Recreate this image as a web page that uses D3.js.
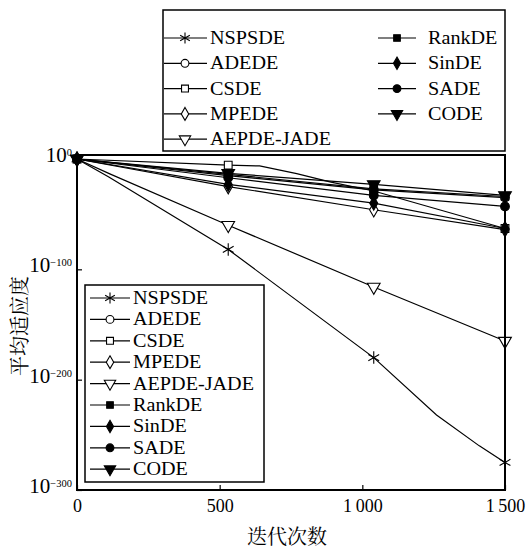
<!DOCTYPE html>
<html>
<head>
<meta charset="utf-8">
<script src="https://cdn.jsdelivr.net/npm/d3@7"></script>
<style>
  body { margin: 0; background: #fff; }
</style>
</head>
<body>
<svg id="chart" width="531" height="551"></svg>
<script>
// ticks
const iterTicks = [0, 500, 1000, 1500]
const fitTicks = [1, 1e-100, 1e-200, 1e-300]
const fitTickExp = ['0', '\u2212100', '\u2212200', '\u2212300']
const markIters = [0, 530, 1040, 1500]

// series : [iteration, mean fitness]
const names = ['NSPSDE', 'ADEDE', 'CSDE', 'MPEDE', 'AEPDE-JADE', 'RankDE', 'SinDE', 'SADE', 'CODE']
const NSPSDE = [[0, 1], [110, 1e-16], [530, 1e-82], [1040, 1e-180], [1260, 1e-232], [1410, 1e-260], [1500, 1e-275]]
const ADEDE = [[0, 1], [530, 1e-15], [1040, 1e-28], [1500, 1e-35]]
const CSDE = [[0, 1], [530, 3e-6], [640, 5e-7], [770, 5e-14], [890, 1e-21], [1040, 1e-29], [1500, 1e-63]]
const MPEDE = [[0, 1], [530, 1e-25], [1040, 1e-46], [1500, 1e-64]]
const AEPDE = [[0, 1], [115, 3e-14], [530, 1e-60], [1040, 1e-116], [1500, 1e-165]]
const RankDE = [[0, 1], [530, 1e-14], [1040, 1e-27], [1500, 1e-34]]
const SinDE = [[0, 1], [530, 1e-23], [1040, 1e-40], [1500, 1e-63]]
const SADE = [[0, 1], [530, 1e-17], [1040, 1e-33], [1500, 1e-43]]
const CODE = [[0, 1], [530, 1e-13], [1040, 1e-23], [1500, 1e-33]]
const seriesData = [NSPSDE, ADEDE, CSDE, MPEDE, AEPDE, RankDE, SinDE, SADE, CODE]

// marker styles, same order as names
const markers = [
  { type: d3.symbolAsterisk, size: 110, fill: false, rot: 0 },
  { type: d3.symbolCircle, size: 60, fill: false, rot: 0 },
  { type: d3.symbolSquare, size: 60, fill: false, rot: 0 },
  { type: d3.symbolDiamond, size: 60, fill: false, rot: 0 },
  { type: d3.symbolTriangle, size: 70, fill: false, rot: 180 },
  { type: d3.symbolSquare, size: 55, fill: true, rot: 0 },
  { type: d3.symbolDiamond, size: 55, fill: true, rot: 0 },
  { type: d3.symbolCircle, size: 60, fill: true, rot: 0 },
  { type: d3.symbolTriangle, size: 70, fill: true, rot: 180 }
]

const SERIF = '"Liberation Serif", "Times New Roman", serif'
const CJK = '"Noto Serif CJK SC", "Noto Sans CJK SC", sans-serif'

const svg = d3.select('#chart')
const mLeft = 77, mRight = 505, mTop = 155, mBottom = 490

const x = d3.scaleLinear().domain([0, 1500]).range([mLeft, mRight])
const y = d3.scaleLog().domain([1e-300, 1]).range([mBottom, 159])

function drawMarker (g, m, cx, cy, k) {
  g.append('path')
    .attr('d', d3.symbol().type(m.type).size(m.size * (k || 1))())
    .attr('transform', 'translate(' + cx + ',' + cy + ') rotate(' + m.rot + ')')
    .attr('fill', m.fill ? '#000' : '#fff')
    .attr('stroke', '#000')
    .attr('stroke-width', 1.1)
}

// lines
const line = d3.line().x(d => x(d[0])).y(d => y(d[1]))
const plot = svg.append('g').attr('class', 'plot-g')
seriesData.forEach(function (s) {
  plot.append('path').datum(s)
    .attr('d', line)
    .attr('fill', 'none')
    .attr('stroke', '#000')
    .attr('stroke-width', 1.2)
})
seriesData.forEach(function (s, i) {
  s.filter(d => markIters.includes(d[0])).forEach(function (d) {
    drawMarker(plot, markers[i], x(d[0]), y(d[1]))
  })
})

// axes (ticks inward)
const fmt = d3.formatLocale({ decimal: '.', thousands: '\u2009', grouping: [3], currency: ['', ''] }).format(',')
const xAxis = svg.append('g')
  .attr('transform', 'translate(0,' + mBottom + ')')
  .call(d3.axisBottom(x).tickValues(iterTicks).tickSize(-5).tickSizeOuter(0).tickFormat(fmt))
xAxis.attr('font-family', SERIF).attr('font-size', 18)
xAxis.select('.domain').remove()
xAxis.selectAll('line').attr('stroke', '#000').attr('stroke-width', 1.2)
xAxis.selectAll('text').attr('dy', null).attr('y', 22).attr('fill', '#000')

const yAxis = svg.append('g')
  .attr('transform', 'translate(' + mLeft + ',0)')
  .call(d3.axisLeft(y).tickValues(fitTicks).tickSize(-5).tickSizeOuter(0).tickFormat(''))
yAxis.select('.domain').remove()
yAxis.selectAll('line').attr('stroke', '#000').attr('stroke-width', 1.2)

// y tick labels 10^n
fitTicks.forEach(function (v, i) {
  const t = svg.append('text')
    .attr('x', 72)
    .attr('y', y(v) + 3)
    .attr('text-anchor', 'end')
    .attr('font-family', SERIF)
    .attr('fill', '#000')
  t.append('tspan').text('10').attr('font-size', 21)
  t.append('tspan').text(fitTickExp[i]).attr('font-size', 10.5).attr('dy', -6)
})

// frame
svg.append('rect')
  .attr('x', mLeft).attr('y', mTop)
  .attr('width', mRight - mLeft).attr('height', mBottom - mTop)
  .attr('fill', 'none').attr('stroke', '#000').attr('stroke-width', 2)

// axis titles
svg.append('text')
  .attr('transform', 'translate(18,326) rotate(-90)')
  .attr('text-anchor', 'middle')
  .attr('dominant-baseline', 'central')
  .attr('font-family', CJK)
  .attr('font-size', 20)
  .attr('fill', '#000')
  .text('平均适应度')
svg.append('text')
  .attr('x', 287).attr('y', 544)
  .attr('text-anchor', 'middle')
  .attr('font-family', CJK)
  .attr('font-size', 20)
  .attr('fill', '#000')
  .text('迭代次数')

// legend helper
function legendItem (g, i, lx0, lx1, mx, tx, cy) {
  g.append('line').attr('x1', lx0).attr('x2', lx1).attr('y1', cy).attr('y2', cy)
    .attr('stroke', '#000').attr('stroke-width', 1.2)
  drawMarker(g, markers[i], mx, cy, 0.8)
  g.append('text')
    .attr('transform', 'translate(' + tx + ',' + (cy + 6) + ') scale(1.12,1)')
    .attr('font-family', SERIF)
    .attr('font-size', 18)
    .attr('fill', '#000')
    .text(names[i])
}

// top legend, two columns
const topLeg = svg.append('g').attr('class', 'legend-top')
topLeg.append('rect').attr('x', 163).attr('y', 10).attr('width', 342).attr('height', 141)
  .attr('fill', '#fff').attr('stroke', '#000').attr('stroke-width', 1.5)
names.forEach(function (n, i) {
  if (i < 5) legendItem(topLeg, i, 164, 207, 185, 210, 38 + i * 25.3)
  else legendItem(topLeg, i, 378, 416, 397, 428, 38 + (i - 5) * 25.3)
})

// lower legend, one column
const lowLeg = svg.append('g').attr('class', 'legend-low')
lowLeg.append('rect').attr('x', 85).attr('y', 285).attr('width', 179).attr('height', 197)
  .attr('fill', '#fff').attr('stroke', '#000').attr('stroke-width', 1.5)
names.forEach(function (n, i) {
  legendItem(lowLeg, i, 90, 130, 110, 133, 298 + i * 21.4)
})
</script>
</body>
</html>
